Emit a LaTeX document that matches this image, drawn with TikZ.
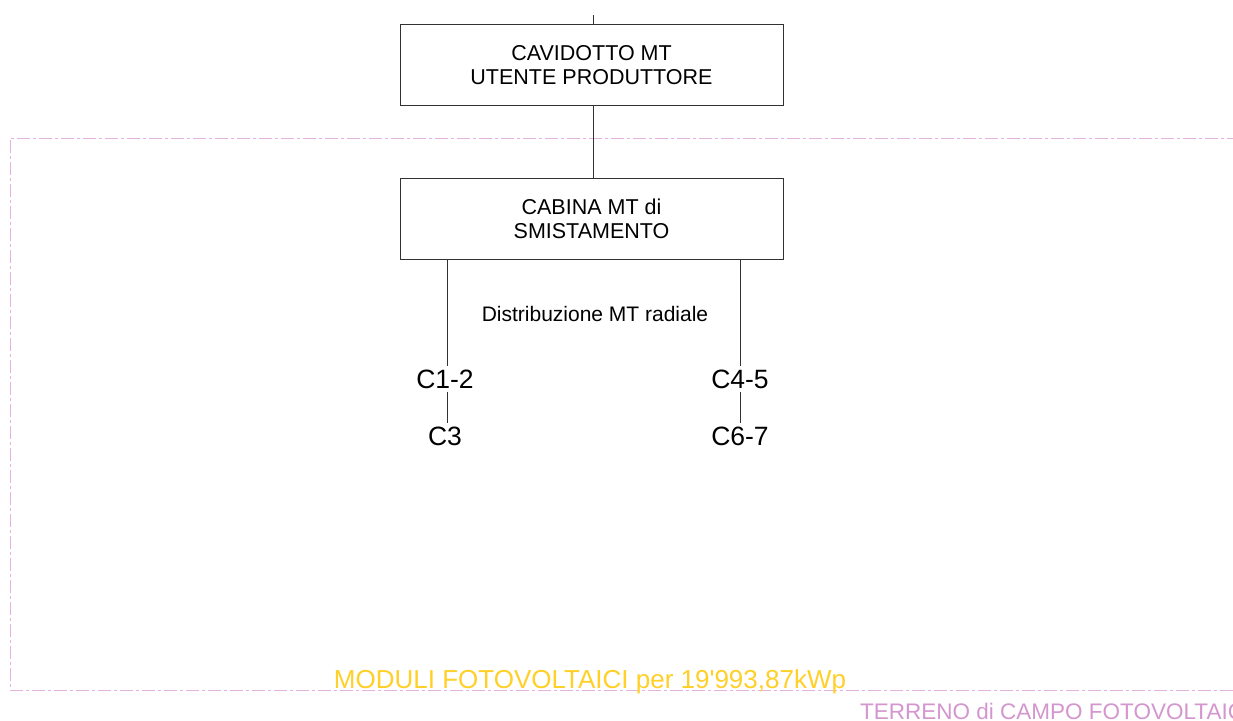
\documentclass[tikz,border=0pt]{standalone}
\usepackage{fontspec}
\setmainfont{Liberation Sans}
\definecolor{linepink}{RGB}{228,178,222}
\definecolor{textpink}{RGB}{212,150,206}
\definecolor{gold}{RGB}{255,208,40}
\definecolor{boxline}{RGB}{50,50,50}
\begin{document}
\begin{tikzpicture}[x=1pt,y=-1pt,
  box/.style={draw=boxline,line width=1pt,minimum width=383pt,minimum height=81pt,align=center,font=\fontsize{21.5}{23.5}\selectfont,inner sep=0pt},
  wire/.style={draw=boxline,line width=0.9pt},
  clabel/.style={font=\fontsize{26.5}{28}\selectfont,inner sep=3pt},
  terrain/.style={draw=linepink,line width=1pt,dash pattern=on 13pt off 3pt on 3pt off 3pt}
]
\useasboundingbox (0,0) rectangle (1233,720);
\clip (0,0) rectangle (1233,720);
\fill[white] (0,0) rectangle (1233,720);

% terrain boundary
\draw[terrain] (1240,138) -- (10,138) -- (10,690) -- (1240,690);

\coordinate (top) at (593,15);
\node[box] (cav) at (591.5,65) {CAVIDOTTO MT\\UTENTE PRODUTTORE};
\node[box] (cab) at (591.5,219) {CABINA MT di\\SMISTAMENTO};

\draw[wire] (top) -- (cav.north -| top);
\draw[wire] (cav.south -| top) -- (cab.north -| top);

\node[font=\fontsize{21}{22}\selectfont] (dist) at (595,314) {Distribuzione MT radiale};

\node[clabel] (c12) at (445,379) {C1-2};
\node[clabel] (c3) at (445,436) {C3};
\node[clabel] (c45) at (740,379) {C4-5};
\node[clabel] (c67) at (740,436) {C6-7};

\draw[wire] (cab.south -| 447,0) -- (c12.north -| 447,0);
\draw[wire] (c12.south -| 447,0) -- (c3.north -| 447,0);
\draw[wire] (cab.south -| 740,0) -- (c45.north -| 740,0);
\draw[wire] (c45.south -| 740,0) -- (c67.north -| 740,0);

\node[text=gold,font=\fontsize{26}{28}\selectfont,inner sep=0pt,anchor=base] (mod) at (590,688) {MODULI FOTOVOLTAICI per 19\textquotesingle993,87kWp};
\node[text=textpink,font=\fontsize{22.5}{24}\selectfont,inner sep=0pt,anchor=base west] (terr) at (860,719) {TERRENO di CAMPO FOTOVOLTAICO};
\end{tikzpicture}
\end{document}
